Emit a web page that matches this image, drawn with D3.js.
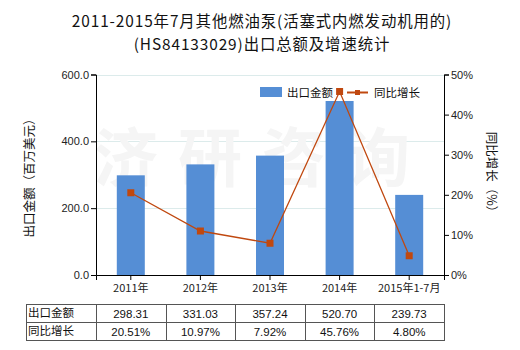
<!DOCTYPE html>
<html>
<head>
<meta charset="utf-8">
<script src="https://cdn.jsdelivr.net/npm/d3@7"></script>
<style>
  html, body { margin: 0; padding: 0; background: #fff; }
  svg { display: block; font-family: "Microsoft YaHei", "Noto Sans CJK SC", sans-serif; }
</style>
</head>
<body>
<svg id="chart" width="520" height="350"></svg>
<script>
// Export value and year-on-year growth, 2011 – Jul 2015
const categories = ["2011年", "2012年", "2013年", "2014年", "2015年1-7月"];
const exportValues = [298.31, 331.03, 357.24, 520.70, 239.73];
const growthRates = [20.51, 10.97, 7.92, 45.76, 4.80];
const leftTicks = [0, 200, 400, 600];
const rightTicks = [0, 10, 20, 30, 40, 50];
const seriesNames = ["出口金额", "同比增长"];
const titleLines = ["2011-2015年7月其他燃油泵(活塞式内燃发动机用的)", "(HS84133029)出口总额及增速统计"];

const svg = d3.select("#chart");
const m = { left: 96, right: 444, top: 74.5, bottom: 275 };
const barColor = "#558ed5";
const lineColor = "#c0480f";
const fontCJK = "'Noto Sans CJK SC', sans-serif";

const x = d3.scaleBand().domain(categories).range([m.left, m.right]);
const yL = d3.scaleLinear().domain([0, 600]).range([m.bottom, m.top]);
const yR = d3.scaleLinear().domain([0, 50]).range([m.bottom, m.top]);

// Title
svg.append("g").selectAll("text").data(titleLines).join("text")
  .attr("x", 262).attr("y", (d, i) => 27 + i * 22.6)
  .attr("text-anchor", "middle")
  .attr("font-size", 15.4).attr("letter-spacing", 0.9).attr("fill", "#111")
  .style("font-family", fontCJK)
  .text(d => d);

// Gridlines
svg.append("g").selectAll("line").data(leftTicks.filter(t => t > 0)).join("line")
  .attr("x1", m.left).attr("x2", m.right)
  .attr("y1", d => Math.round(yL(d)) + 0.5).attr("y2", d => Math.round(yL(d)) + 0.5)
  .attr("stroke", "#dcebeb").attr("stroke-width", 1);

// Watermark
svg.append("text")
  .attr("x", 262).attr("y", 181)
  .attr("text-anchor", "middle")
  .attr("font-size", 64).attr("font-weight", "bold")
  .attr("letter-spacing", 20)
  .attr("fill", "#f5f5f5")
  .style("font-family", fontCJK)
  .text("济研咨询");

// Bars
const barW = 28;
svg.append("g").selectAll("rect").data(exportValues).join("rect")
  .attr("x", (d, i) => x(categories[i]) + x.bandwidth() / 2 - barW / 2)
  .attr("width", barW)
  .attr("y", d => yL(d))
  .attr("height", d => m.bottom - yL(d))
  .attr("fill", barColor);

// Legend (drawn under the growth line so the 2014 point sits on top)
const lg = svg.append("g").style("font-family", fontCJK);
lg.append("rect").attr("x", 260).attr("y", 87).attr("width", 22).attr("height", 10).attr("fill", barColor);
lg.append("text").attr("x", 287).attr("y", 97).attr("font-size", 11.5).attr("fill", "#111").text(seriesNames[0]);
lg.append("line").attr("x1", 347).attr("x2", 368).attr("y1", 92.5).attr("y2", 92.5)
  .attr("stroke", lineColor).attr("stroke-width", 2);
lg.append("rect").attr("x", 355).attr("y", 90).attr("width", 5).attr("height", 5).attr("fill", lineColor);
lg.append("text").attr("x", 374).attr("y", 97).attr("font-size", 11.5).attr("fill", "#111").text(seriesNames[1]);

// Growth line
const line = d3.line()
  .x((d, i) => x(categories[i]) + x.bandwidth() / 2)
  .y(d => yR(d));
svg.append("path").datum(growthRates)
  .attr("d", line).attr("fill", "none")
  .attr("stroke", lineColor).attr("stroke-width", 1.3);
svg.append("g").selectAll("rect").data(growthRates).join("rect")
  .attr("x", (d, i) => x(categories[i]) + x.bandwidth() / 2 - 3.5)
  .attr("y", d => yR(d) - 3.5)
  .attr("width", 7).attr("height", 7)
  .attr("fill", lineColor);

// Axes
const axisFont = (g) => g.selectAll("text")
  .attr("font-size", 11).attr("fill", "#222")
  .style("font-family", "'Liberation Sans', Arial, sans-serif");

const axL = svg.append("g").attr("transform", `translate(${m.left},0)`)
  .call(d3.axisLeft(yL).tickValues(leftTicks).tickFormat(d3.format(".1f")).tickSize(5).tickPadding(2));
axL.call(axisFont);

const axR = svg.append("g").attr("transform", `translate(${m.right},0)`)
  .call(d3.axisRight(yR).tickValues(rightTicks).tickFormat(d => d + "%").tickSize(5).tickPadding(2));
axR.call(axisFont);

const axB = svg.append("g").attr("transform", `translate(0,${m.bottom})`)
  .call(d3.axisBottom(x).tickSize(5).tickPadding(4));
axB.selectAll("text").attr("font-size", 11).attr("fill", "#222").style("font-family", fontCJK);

[axL, axR, axB].forEach(a => a.selectAll("path, line").attr("stroke", "#000"));

// Axis titles
svg.append("text")
  .attr("transform", "translate(34,175) rotate(-90)")
  .attr("text-anchor", "middle").attr("font-size", 12.5).attr("fill", "#111")
  .style("font-family", fontCJK)
  .text("出口金额（百万美元）");
svg.append("text")
  .attr("transform", "translate(487,175) rotate(90)")
  .attr("text-anchor", "middle").attr("font-size", 12.5).attr("fill", "#111")
  .style("font-family", fontCJK)
  .text("同比增长（%）");

// Data table
const tblLeft = 26, rowTops = [304, 322, 340];
const rows = [
  { name: seriesNames[0], vals: exportValues.map(v => v.toFixed(2)) },
  { name: seriesNames[1], vals: growthRates.map(v => v.toFixed(2) + "%") }
];
const tbl = svg.append("g").style("font-family", fontCJK);
const colEdges = [tblLeft].concat(categories.map(c => x(c))).concat([m.right]);
rowTops.forEach(y => tbl.append("line")
  .attr("x1", tblLeft).attr("x2", m.right).attr("y1", y + 0.5).attr("y2", y + 0.5)
  .attr("stroke", "#555"));
colEdges.forEach(cx => tbl.append("line")
  .attr("x1", Math.round(cx) + 0.5).attr("x2", Math.round(cx) + 0.5)
  .attr("y1", rowTops[0]).attr("y2", rowTops[2] + 1)
  .attr("stroke", "#555"));
rows.forEach((r, ri) => {
  tbl.append("text").attr("x", tblLeft + 2).attr("y", rowTops[ri] + 13)
    .attr("font-size", 11.5).attr("fill", "#111").text(r.name);
  r.vals.forEach((v, i) => tbl.append("text")
    .attr("x", x(categories[i]) + x.bandwidth() / 2).attr("y", rowTops[ri] + 14)
    .attr("text-anchor", "middle").attr("font-size", 11.5).attr("fill", "#111")
    .style("font-family", "'Liberation Sans', Arial, sans-serif")
    .text(v));
});
</script>
</body>
</html>
